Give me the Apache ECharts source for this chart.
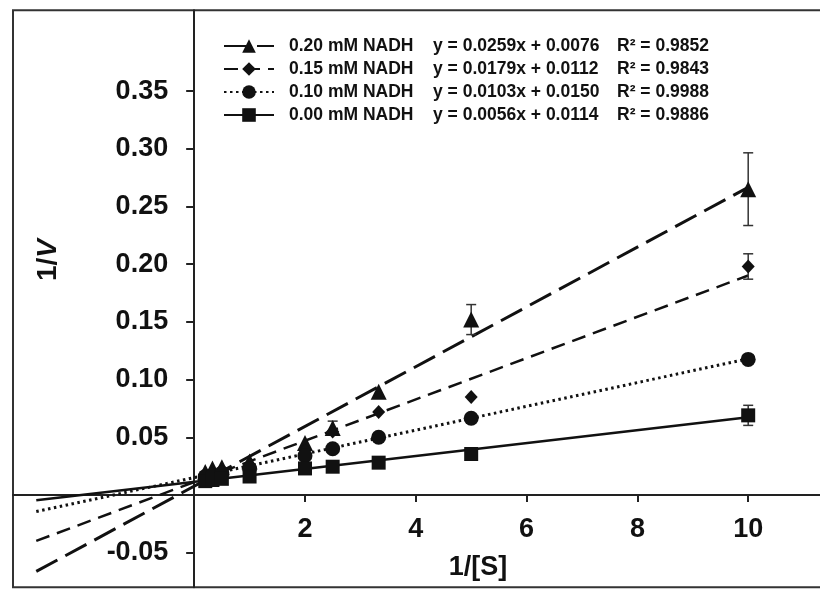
<!DOCTYPE html>
<html>
<head>
<meta charset="utf-8">
<script src="https://cdn.jsdelivr.net/npm/echarts@6/dist/echarts.min.js"></script>
<style>html,body{margin:0;padding:0;background:#fff}#c{width:820px;height:590px}</style>
</head>
<body>
<div id="c"></div>
<script>
// ---- data ----
const xValues = [0.2, 0.33, 0.5, 1, 2, 2.5, 3.33, 5, 10];
const names = ['0.20 mM NADH', '0.15 mM NADH', '0.10 mM NADH', '0.00 mM NADH'];
const y020 = [0.020, 0.023, 0.024, 0.029, 0.045, 0.058, 0.0895, 0.152, 0.265];
const y015 = [0.017, 0.019, 0.021, 0.026, 0.039, 0.055, 0.072, 0.085, 0.198];
const y010 = [0.016, 0.017, 0.019, 0.023, 0.034, 0.040, 0.050, 0.0665, 0.1175];
const y000 = [0.012, 0.013, 0.014, 0.016, 0.023, 0.0245, 0.028, 0.0355, 0.069];
const err020 = [0, 0, 0, 0, 0, 0.006, 0, 0.013, 0.0315];
const err015 = [0, 0, 0, 0, 0, 0, 0, 0, 0.011];
const err010 = [0, 0, 0, 0, 0, 0, 0, 0, 0.004];
const err000 = [0, 0, 0, 0, 0, 0, 0, 0, 0.0087];
const slopes = [0.0259, 0.0179, 0.0103, 0.0056];
const intercepts = [0.0076, 0.0112, 0.0150, 0.0114];
const equations = ['y = 0.0259x + 0.0076', 'y = 0.0179x + 0.0112', 'y = 0.0103x + 0.0150', 'y = 0.0056x + 0.0114'];
const rSquared = ['R\u00b2 = 0.9852', 'R\u00b2 = 0.9843', 'R\u00b2 = 0.9988', 'R\u00b2 = 0.9886'];
const trendFrom = -2.85;
const trendTo = 10;
const xTicks = [2, 4, 6, 8, 10];
const yTicks = [-0.05, 0.05, 0.10, 0.15, 0.20, 0.25, 0.30, 0.35];

// ---- styling ----
const FONT = '"Liberation Sans", Arial, sans-serif';
const INK = '#111';
const ys = [y020, y015, y010, y000];
const errs = [err020, err015, err010, err000];
const symbols = ['triangle', 'diamond', 'circle', 'rect'];
const symbolSizes = [[16, 16], [13, 14], [15, 15], [14, 14]];
const lineTypes = [[24, 9], [14, 8], [2.5, 3.5], 'solid'];
const lineWidths = [3, 2.5, 3, 2.5];

const series = [];
names.forEach((name, i) => {
  series.push({
    name: name,
    type: 'line',
    data: [[trendFrom, slopes[i] * trendFrom + intercepts[i]], [trendTo, slopes[i] * trendTo + intercepts[i]]],
    symbol: symbols[i],
    showSymbol: false,
    lineStyle: { color: INK, width: lineWidths[i], type: lineTypes[i] },
    itemStyle: { color: INK, opacity: 1 },
    z: 2, silent: true
  });
});
names.forEach((name, i) => {
  series.push({
    name: name + ' pts',
    type: 'scatter',
    data: xValues.map((x, k) => [x, ys[i][k]]),
    symbol: symbols[i],
    symbolSize: symbolSizes[i],
    itemStyle: { color: INK, opacity: 1 },
    z: 4, silent: true
  });
  const eb = [];
  xValues.forEach((x, k) => { if (errs[i][k] > 0) eb.push([x, ys[i][k] - errs[i][k], ys[i][k] + errs[i][k]]); });
  series.push({
    name: name + ' err',
    type: 'custom',
    data: eb,
    z: 3, silent: true,
    renderItem: function (params, api) {
      const x = api.value(0);
      const lo = api.coord([x, api.value(1)]);
      const hi = api.coord([x, api.value(2)]);
      const cap = 5;
      const st = { stroke: '#333', lineWidth: 1.5 };
      return {
        type: 'group',
        children: [
          { type: 'line', shape: { x1: lo[0], y1: lo[1], x2: hi[0], y2: hi[1] }, style: st },
          { type: 'line', shape: { x1: lo[0] - cap, y1: lo[1], x2: lo[0] + cap, y2: lo[1] }, style: st },
          { type: 'line', shape: { x1: hi[0] - cap, y1: hi[1], x2: hi[0] + cap, y2: hi[1] }, style: st }
        ]
      };
    }
  });
});

const chart = echarts.init(document.getElementById('c'), null, { renderer: 'canvas' });
const labelStyle = { color: INK, fontSize: 27, fontWeight: 'bold', fontFamily: FONT };
const GRID = { left: 13, top: 10.3, right: -11.3, bottom: 2.7 };
const legendRich = { fontSize: 17.5, fontWeight: 'bold', fontFamily: FONT, color: INK, lineHeight: 20 };
chart.setOption({
  animation: false,
  backgroundColor: '#fff',
  grid: Object.assign({ show: true, borderColor: '#333', borderWidth: 2, backgroundColor: 'transparent', containLabel: false, outerBoundsMode: 'none' }, GRID),
  legend: {
    data: names,
    orient: 'vertical',
    left: 218,
    top: 32,
    itemWidth: 50,
    itemHeight: 17,
    itemGap: 5,
    selectedMode: false,
    formatter: function (name) {
      const i = names.indexOf(name);
      return '{n|' + name + '}{e|' + equations[i] + '}{r|' + rSquared[i] + '}';
    },
    textStyle: {
      color: INK, fontSize: 17.5, fontWeight: 'bold', fontFamily: FONT,
      rich: {
        n: Object.assign({ width: 144, padding: [0, 0, 0, 10] }, legendRich),
        e: Object.assign({ width: 184 }, legendRich),
        r: Object.assign({}, legendRich)
      }
    }
  },
  xAxis: {
    type: 'value', min: -3.27, max: 11.5, position: 'bottom',
    axisLine: { onZero: false, lineStyle: { color: '#222', width: 2 } },
    axisTick: { customValues: xTicks, length: 7, lineStyle: { color: '#222', width: 2 } },
    axisLabel: Object.assign({ customValues: xTicks, margin: 21 }, labelStyle),
    splitLine: { show: false }
  },
  yAxis: {
    type: 'value', min: -0.08, max: 0.42, position: 'left',
    axisLine: { onZero: false, lineStyle: { color: '#222', width: 2 } },
    axisTick: { customValues: yTicks, length: 8, lineStyle: { color: '#222', width: 2 } },
    axisLabel: Object.assign({ customValues: yTicks, margin: 26, formatter: v => v.toFixed(2) }, labelStyle),
    splitLine: { show: false }
  },
  graphic: [
    {
      type: 'text', x: 48, y: 260, rotation: Math.PI / 2,
      style: {
        text: '{a|1/}{b|V}', align: 'center', verticalAlign: 'middle',
        rich: {
          a: { fontSize: 28, fontWeight: 'bold', fontFamily: FONT, fill: INK },
          b: { fontSize: 28, fontWeight: 'bold', fontStyle: 'italic', fontFamily: FONT, fill: INK }
        }
      }
    },
    {
      type: 'text', x: 478, y: 568,
      style: { text: '1/[S]', align: 'center', verticalAlign: 'middle', fontSize: 27, fontWeight: 'bold', fontFamily: FONT, fill: INK }
    }
  ],
  series: series
});
// move the axes to cross at the origin (the scale decides where 0 is)
const origin = chart.convertToPixel({ gridIndex: 0 }, [0, 0]);
chart.setOption({
  xAxis: { offset: -((590 - GRID.bottom) - origin[1]) },
  yAxis: { offset: -(origin[0] - GRID.left) }
});
</script>
</body>
</html>
